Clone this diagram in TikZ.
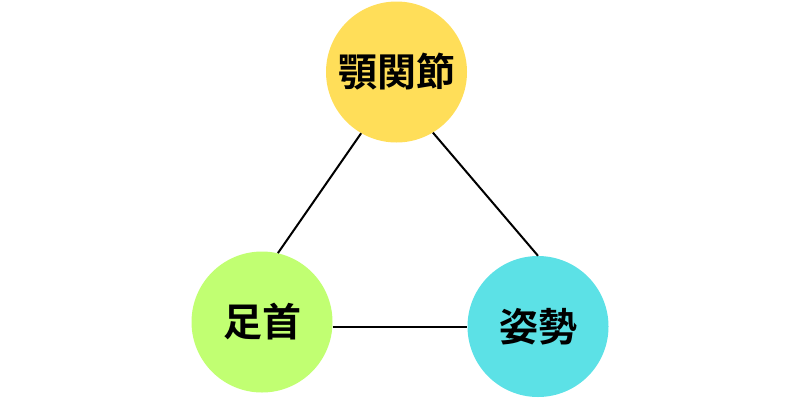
\documentclass[tikz,border=0pt]{standalone}
\usepackage{fontspec}
\newfontfamily\cjk{Noto Sans CJK JP Bold}
\definecolor{cyellow}{HTML}{FFDE59}
\definecolor{cgreen}{HTML}{C1FF72}
\definecolor{ccyan}{HTML}{5CE1E6}
\begin{document}
\begin{tikzpicture}[x=1pt,y=-1pt,
  ball/.style={circle,minimum size=141pt,inner sep=0pt,font=\cjk\fontsize{39}{39}\selectfont,text=black},
  link/.style={draw=black,line width=2pt}]
\useasboundingbox (0,0) rectangle (800,400);
\node[ball,fill=cyellow] (top) at (396.5,72) {顎関節};
\node[ball,fill=cgreen] (left) at (262,322) {足首};
\node[ball,fill=ccyan] (right) at (538,326.5) {姿勢};
\begin{scope}
\draw[link] (top.240.5) -- (left.77.9);
\draw[link] (top.301.6) -- (right.90);
\draw[link] (left.east |- right.west) -- (right.west);
\end{scope}
\end{tikzpicture}
\end{document}
